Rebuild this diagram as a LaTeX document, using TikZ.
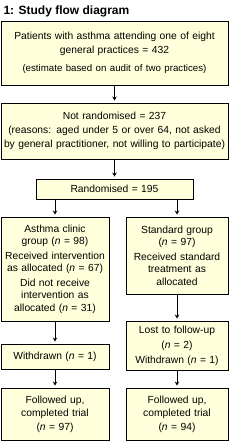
\documentclass[tikz,border=0pt]{standalone}
\usepackage{fontspec}
\setmainfont{Liberation Sans}
\usetikzlibrary{arrows.meta}
\definecolor{boxfill}{RGB}{255,255,219}

\begin{document}
\begin{tikzpicture}[x=1pt,y=-1pt,
    >={Stealth[length=4pt,width=4.5pt]},
    every node/.style={font=\fontsize{10.3}{13}\selectfont},
    flowbox/.style={draw,fill=boxfill,line width=0.9pt,align=center,inner sep=2pt},
    flow/.style={->,line width=0.9pt,shorten >=2pt}]
  \useasboundingbox (0,0) rectangle (229,441);

  \node[anchor=base west,font=\fontsize{12}{13}\selectfont\bfseries] (title) at (0,14.5)
    {1: Study flow diagram};

  % Top: eligible and excluded patients
  \node[flowbox,text width=223,minimum height=64,font=\fontsize{10.3}{14}\selectfont]
    (eligible) at (114.5,53)
    {Patients with asthma attending one of eight\\ general practices = 432\\[4pt]
     {\fontsize{9.7}{14}\selectfont(estimate based on audit of two practices)}};
  \node[flowbox,text width=223,minimum height=56,font=\fontsize{10.3}{14}\selectfont]
    (notrand) at (114.5,131)
    {Not randomised = 237\\ (reasons: aged under 5 or over 64, not asked\\
     by general practitioner, not willing to participate)};
  \node[flowbox,text width=153,minimum height=20] (rand) at (114.5,189)
    {Randomised = 195};

  % Left arm: asthma clinic
  \node[flowbox,text width=104,minimum height=104,font=\fontsize{10.3}{12.5}\selectfont]
    (clinic) at (55,269)
    {Asthma clinic\\ group (\textit{n}~=~98)\\[2pt]
     Received intervention\\ as allocated (\textit{n}~=~67)\\[2pt]
     Did not receive\\ intervention as\\ allocated (\textit{n}~=~31)};
  \node[flowbox,text width=104,minimum height=25] (withdrawnA) at (55,356.5)
    {Withdrawn (\textit{n}~=~1)};
  \node[flowbox,text width=104,minimum height=52,font=\fontsize{10.3}{13.5}\selectfont]
    (followA) at (55,414)
    {Followed up,\\ completed trial\\ (\textit{n}~=~97)};

  % Right arm: standard care
  \node[flowbox,text width=98,minimum height=77,font=\fontsize{10.3}{12.5}\selectfont]
    (standard) at (177,255.5)
    {Standard group\\ (\textit{n}~=~97)\\[2pt]
     Received standard\\ treatment as\\ allocated};
  \node[flowbox,text width=98,minimum height=49,font=\fontsize{10.3}{15}\selectfont]
    (lost) at (177,345.5)
    {Lost to follow-up\\ (\textit{n}~=~2)\\ Withdrawn (\textit{n}~=~1)};
  \node[flowbox,text width=98,minimum height=52,font=\fontsize{10.3}{13.5}\selectfont]
    (followB) at (177,414)
    {Followed up,\\ completed trial\\ (\textit{n}~=~94)};

  \draw[flow] (eligible) -- (notrand);
  \draw[flow] (notrand) -- (rand);
  \draw[flow] (rand.south -| clinic.north) -- (clinic.north);
  \draw[flow] (rand.south -| standard.north) -- (standard.north);
  \draw[flow] (clinic) -- (withdrawnA);
  \draw[flow] (withdrawnA) -- (followA);
  \draw[flow] (standard) -- (lost);
  \draw[flow] (lost) -- (followB);
\end{tikzpicture}
\end{document}
